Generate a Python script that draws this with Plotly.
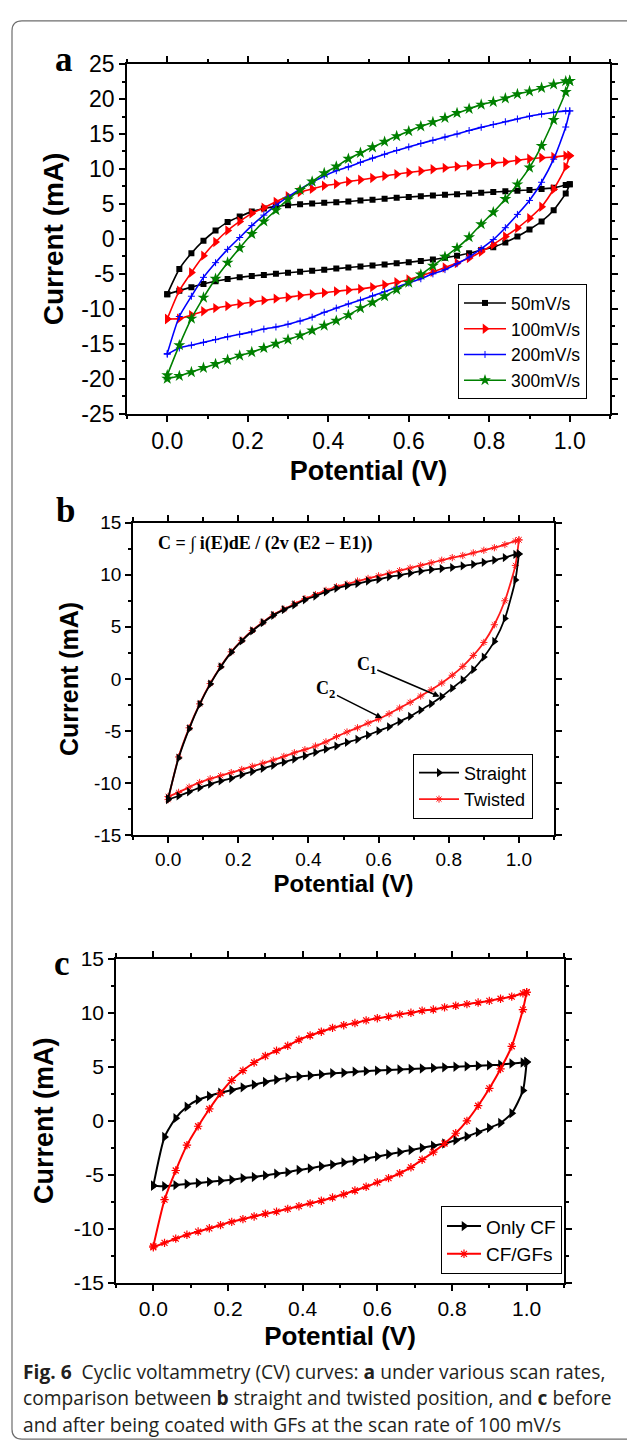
import plotly.graph_objects as go

# ---------------- data ----------------
POTENTIAL = [0.00, 0.03, 0.06, 0.09, 0.12, 0.15, 0.18, 0.21, 0.24, 0.27, 0.30, 0.33,
             0.36, 0.39, 0.42, 0.45, 0.48, 0.51, 0.54, 0.57, 0.60, 0.63, 0.66, 0.69,
             0.72, 0.75, 0.78, 0.81, 0.84, 0.87, 0.90, 0.93, 0.96, 0.99, 1.00]

# panel a : scan rates (forward = anodic sweep, reverse = cathodic sweep)
A_50_FWD = [-7.9, -4.3, -2.05, -0.25, 1.2, 2.4, 3.2, 3.9, 4.35, 4.65, 4.8, 4.95, 5.05, 5.15,
            5.25, 5.35, 5.5, 5.6, 5.75, 5.9, 6.0, 6.1, 6.2, 6.3, 6.4, 6.5, 6.6, 6.7, 6.8, 6.9,
            7.0, 7.15, 7.3, 7.7, 7.8]
A_50_REV = [-7.9, -7.4, -6.9, -6.45, -6.05, -5.75, -5.5, -5.3, -5.15, -5.0, -4.85, -4.7, -4.55,
            -4.4, -4.25, -4.1, -3.95, -3.8, -3.65, -3.5, -3.35, -3.15, -2.95, -2.7, -2.4, -2.05,
            -1.6, -1.2, -0.5, 0.35, 1.35, 2.5, 4.1, 6.5, 7.8]
A_100_FWD = [-11.45, -7.4, -4.8, -2.4, -0.45, 1.2, 2.5, 3.65, 4.45, 5.3, 6.1, 6.7, 7.15, 7.6,
             7.85, 8.2, 8.45, 8.7, 9.0, 9.25, 9.5, 9.7, 9.95, 10.15, 10.35, 10.5, 10.65, 10.85,
             11.0, 11.25, 11.45, 11.6, 11.7, 11.9, 11.9]
A_100_REV = [-11.45, -11.4, -10.9, -10.35, -9.9, -9.6, -9.3, -9.05, -8.8, -8.55, -8.35, -8.1,
             -7.9, -7.7, -7.5, -7.3, -7.15, -6.9, -6.55, -6.2, -5.8, -5.3, -4.7, -4.1, -3.45,
             -2.75, -1.85, -0.8, 0.35, 1.55, 2.95, 4.6, 7.1, 10.3, 11.9]
A_200_FWD = [-16.4, -11.1, -8.2, -5.5, -3.4, -1.5, 0.2, 1.9, 3.4, 4.8, 6.0, 7.1, 8.1, 9.0, 9.75,
             10.3, 10.95, 11.55, 12.1, 12.65, 13.15, 13.65, 14.1, 14.55, 15.0, 15.5, 15.95,
             16.35, 16.75, 17.15, 17.55, 17.85, 18.1, 18.3, 18.3]
A_200_REV = [-16.5, -15.6, -15.2, -14.8, -14.4, -14.0, -13.65, -13.3, -12.9, -12.6, -12.2,
             -11.75, -11.2, -10.5, -9.9, -9.3, -8.75, -8.15, -7.55, -6.9, -6.3, -5.7, -5.0,
             -4.4, -3.55, -2.6, -1.4, -0.1, 1.6, 3.5, 5.5, 8.1, 11.4, 16.0, 18.3]
A_300_FWD = [-19.5, -15.2, -11.4, -8.4, -5.7, -3.4, -1.3, 0.7, 2.5, 4.1, 5.65, 7.0, 8.2, 9.4,
             10.35, 11.45, 12.3, 13.1, 13.9, 14.7, 15.4, 16.1, 16.7, 17.3, 18.0, 18.6, 19.2,
             19.6, 20.1, 20.7, 21.1, 21.6, 22.1, 22.55, 22.6]
A_300_REV = [-20.0, -19.6, -19.05, -18.45, -17.9, -17.3, -16.7, -16.2, -15.6, -15.0, -14.4,
             -13.8, -13.1, -12.4, -11.7, -10.9, -9.9, -9.1, -8.2, -7.25, -6.25, -5.1, -3.85,
             -2.55, -1.3, 0.25, 2.1, 3.8, 5.7, 7.8, 10.2, 13.3, 17.0, 21.0, 22.6]

# panel b : straight vs twisted
B_STRAIGHT_FWD = [-11.5, -7.6, -4.8, -2.45, -0.5, 1.15, 2.55, 3.65, 4.6, 5.4, 6.1, 6.65, 7.1,
                  7.6, 7.95, 8.35, 8.7, 8.95, 9.15, 9.4, 9.55, 9.8, 9.95, 10.15, 10.35, 10.5,
                  10.6, 10.7, 10.85, 11.0, 11.2, 11.4, 11.65, 11.95, 12.0]
B_STRAIGHT_REV = [-11.6, -11.25, -10.85, -10.45, -10.1, -9.8, -9.55, -9.2, -8.9, -8.6, -8.3,
                  -8.0, -7.7, -7.4, -7.05, -6.75, -6.45, -6.1, -5.8, -5.4, -5.0, -4.6, -4.1,
                  -3.6, -3.0, -2.4, -1.7, -0.9, -0.1, 0.9, 2.1, 3.6, 5.8, 9.5, 12.0]
B_TWISTED_FWD = [-11.6, -7.5, -4.7, -2.4, -0.45, 1.2, 2.6, 3.7, 4.65, 5.45, 6.15, 6.7, 7.2,
                 7.7, 8.1, 8.5, 8.85, 9.1, 9.4, 9.65, 9.9, 10.15, 10.4, 10.65, 10.9, 11.15,
                 11.4, 11.65, 11.85, 12.1, 12.35, 12.6, 12.9, 13.25, 13.35]
B_TWISTED_REV = [-11.3, -10.9, -10.4, -9.95, -9.6, -9.3, -9.0, -8.7, -8.4, -8.1, -7.8, -7.45,
                 -7.1, -6.8, -6.45, -6.05, -5.55, -5.1, -4.7, -4.25, -3.85, -3.35, -2.8, -2.25,
                 -1.65, -1.05, -0.4, 0.35, 1.2, 2.25, 3.5, 5.2, 7.5, 10.9, 13.35]

# panel c : before / after GF coating
C_CF_FWD = [-6.0, -1.5, 0.25, 1.3, 1.95, 2.3, 2.6, 2.85, 3.1, 3.35, 3.6, 3.8, 4.0, 4.1, 4.2,
            4.3, 4.4, 4.45, 4.55, 4.6, 4.65, 4.7, 4.75, 4.8, 4.85, 4.9, 4.95, 5.0, 5.05, 5.1,
            5.15, 5.2, 5.3, 5.4, 5.45]
C_CF_REV = [-6.0, -6.05, -5.95, -5.85, -5.75, -5.65, -5.55, -5.45, -5.3, -5.2, -5.05, -4.9,
            -4.75, -4.55, -4.4, -4.2, -4.05, -3.85, -3.7, -3.5, -3.3, -3.1, -2.9, -2.7, -2.5,
            -2.3, -2.1, -1.8, -1.45, -1.05, -0.65, -0.2, 0.7, 2.8, 5.45]
C_GF_FWD = [-11.6, -7.3, -4.6, -2.25, -0.5, 1.1, 2.55, 3.75, 4.65, 5.4, 6.0, 6.5, 6.95, 7.5,
            7.9, 8.25, 8.6, 8.85, 9.05, 9.3, 9.5, 9.65, 9.85, 10.0, 10.2, 10.3, 10.5, 10.65,
            10.8, 10.95, 11.1, 11.3, 11.5, 11.8, 11.9]
C_GF_REV = [-11.7, -11.3, -10.9, -10.55, -10.25, -9.95, -9.65, -9.35, -9.1, -8.85, -8.6, -8.4,
            -8.15, -7.9, -7.65, -7.4, -7.1, -6.8, -6.45, -6.1, -5.7, -5.3, -4.85, -4.3, -3.6,
            -2.9, -2.1, -1.15, 0.0, 1.4, 3.0, 4.8, 6.9, 10.3, 11.9]

X_TICKS = [0.0, 0.2, 0.4, 0.6, 0.8, 1.0]
X_TICK_TEXT = ["0.0", "0.2", "0.4", "0.6", "0.8", "1.0"]
YA_TICKS = [-25, -20, -15, -10, -5, 0, 5, 10, 15, 20, 25]
YA_TICK_TEXT = ["-25", "-20", "-15", "-10", "-5", "0", "5", "10", "15", "20", "25"]
YBC_TICKS = [-15, -10, -5, 0, 5, 10, 15]
YBC_TICK_TEXT = ["-15", "-10", "-5", "0", "5", "10", "15"]

LEGEND_A = ["50mV/s", "100mV/s", "200mV/s", "300mV/s"]
LEGEND_B = ["Straight", "Twisted"]
LEGEND_C = ["Only CF", "CF/GFs"]

# ---------------- layout helpers ----------------
W, H = 627, 1454
def px(x):
    return x / W
def py(y):
    return 1 - y / H

SANS = "Liberation Sans, Arial, sans-serif"
SERIF = "Liberation Serif, Times New Roman, serif"

fig = go.Figure()

def add_loop(fwd, rev, name, color, symbol, msize, xa, ya, legend, lw=1.6,
             mline=None, rank=None):
    marker = dict(symbol=symbol, size=msize, color=color)
    if mline is not None:
        marker["line"] = dict(color=color, width=mline)
    for ys, show in [(fwd, True), (rev, False)]:
        fig.add_trace(go.Scatter(
            x=POTENTIAL, y=ys, mode="lines+markers", name=name,
            legendgroup=name + xa, showlegend=show, legend=legend,
            line=dict(color=color, width=lw, shape="spline", smoothing=0.6),
            marker=marker, xaxis=xa, yaxis=ya,
            legendrank=rank if rank is not None else 1000,
        ))

# panel a
add_loop(A_50_FWD, A_50_REV, LEGEND_A[0], "#000000", "square", 6, "x", "y", "legend", rank=1)
add_loop(A_100_FWD, A_100_REV, LEGEND_A[1], "#ff0000", "triangle-right", 9, "x", "y", "legend", rank=2)
add_loop(A_200_FWD, A_200_REV, LEGEND_A[2], "#0000ff", "cross-thin", 5, "x", "y", "legend",
         mline=1.0, rank=3)
add_loop(A_300_FWD, A_300_REV, LEGEND_A[3], "#008000", "star", 9, "x", "y", "legend", rank=4)

# panel b (twisted drawn first so the straight curve sits on top)
add_loop(B_TWISTED_FWD, B_TWISTED_REV, LEGEND_B[1], "#ff1a1a", "asterisk-open", 6, "x2", "y2",
         "legend2", lw=1.8, mline=1.0, rank=2)
add_loop(B_STRAIGHT_FWD, B_STRAIGHT_REV, LEGEND_B[0], "#000000", "triangle-right", 8, "x2", "y2",
         "legend2", lw=1.8, rank=1)

# panel c
add_loop(C_CF_FWD, C_CF_REV, LEGEND_C[0], "#000000", "triangle-right", 9, "x3", "y3",
         "legend3", lw=2.0, rank=1)
add_loop(C_GF_FWD, C_GF_REV, LEGEND_C[1], "#ff0000", "asterisk-open", 7, "x3", "y3",
         "legend3", lw=2.0, mline=1.2, rank=2)

# ---------------- axes ----------------
def xaxis_cfg(domain, anchor, tsize, title_size, standoff):
    return dict(domain=domain, anchor=anchor, range=[-0.1, 1.1],
                tickmode="array", tickvals=X_TICKS, ticktext=X_TICK_TEXT,
                ticks="outside", ticklen=6, tickwidth=1.5, tickcolor="black",
                minor=dict(tickmode="linear", tick0=0, dtick=0.1, ticks="outside",
                           ticklen=3.5, tickwidth=1.5, tickcolor="black", showgrid=False),
                showline=True, linecolor="black", linewidth=1.6, mirror="allticks",
                showgrid=False, zeroline=False,
                tickfont=dict(family=SANS, size=tsize, color="black"),
                title=dict(text="<b>Potential (V)</b>", standoff=standoff,
                           font=dict(family=SANS, size=title_size, color="black")))

def yaxis_cfg(domain, anchor, rng, tv, tt, tsize, title_size, standoff):
    return dict(domain=domain, anchor=anchor, range=rng,
                tickmode="array", tickvals=tv, ticktext=tt,
                ticks="outside", ticklen=6, tickwidth=1.5, tickcolor="black",
                minor=dict(tickmode="linear", tick0=0, dtick=2.5, ticks="outside",
                           ticklen=3.5, tickwidth=1.5, tickcolor="black", showgrid=False),
                showline=True, linecolor="black", linewidth=1.6, mirror="allticks",
                showgrid=False, zeroline=False,
                tickfont=dict(family=SANS, size=tsize, color="black"),
                title=dict(text="<b>Current (mA)</b>", standoff=standoff,
                           font=dict(family=SANS, size=title_size, color="black")))

layout = dict(
    width=W, height=H, margin=dict(l=0, r=0, t=0, b=0),
    paper_bgcolor="white", plot_bgcolor="white",
    xaxis=xaxis_cfg([px(127), px(610)], "y", 23, 27, 8),
    yaxis=yaxis_cfg([py(408), py(52)], "x", [-25, 25], YA_TICKS, YA_TICK_TEXT, 23, 28, 10),
    xaxis2=xaxis_cfg([px(133), px(554)], "y2", 19, 24, 7),
    yaxis2=yaxis_cfg([py(837), py(519)], "x2", [-15, 15], YBC_TICKS, YBC_TICK_TEXT, 19, 25, 8),
    xaxis3=xaxis_cfg([px(116), px(564)], "y3", 21, 26, 8),
    yaxis3=yaxis_cfg([py(1293), py(963)], "x3", [-15, 15], YBC_TICKS, YBC_TICK_TEXT, 21, 27, 12),
    showlegend=True,
)

def legend_cfg(x, y, size, iw):
    return dict(x=px(x), y=py(y), xanchor="left", yanchor="top", bgcolor="white",
                bordercolor="black", borderwidth=1, font=dict(family=SANS, size=size, color="black"),
                tracegroupgap=0, itemwidth=iw)

layout["legend"] = legend_cfg(458, 276, 17.5, 42)
layout["legend2"] = legend_cfg(413, 754, 18, 40)
layout["legend3"] = legend_cfg(441, 1215, 19, 34)
fig.update_layout(**layout)

# ---------------- annotations ----------------
ann = []
for letter, x, y in [("a", 64, 47), ("b", 65, 507), ("c", 62, 968)]:
    ann.append(dict(text=f"<b>{letter}</b>", x=px(x), y=py(y), xref="paper", yref="paper",
                    showarrow=False, xanchor="center", yanchor="middle",
                    font=dict(family=SERIF, size=35, color="black")))

ann.append(dict(text="<b>C = \u222b i(E)dE / (2v (E2 \u2212 E1))</b>", x=-0.035, y=13.0,
                xref="x2", yref="y2", xanchor="left", yanchor="middle", showarrow=False,
                font=dict(family=SERIF, size=18, color="black")))
# C1 / C2 labels with their pointer arrows (label at the arrow tail)
for label, (tx, ty, hx, hy) in [("<b>C<sub>1</sub></b>", (0.565, 1.3, 0.774, -1.7)),
                                ("<b>C<sub>2</sub></b>", (0.45, -1.05, 0.61, -3.77))]:
    ann.append(dict(text=label, x=hx, y=hy, ax=tx, ay=ty, xref="x2", yref="y2",
                    axref="x2", ayref="y2", showarrow=True, arrowhead=2, arrowsize=0.8,
                    arrowwidth=1.6, arrowcolor="black",
                    font=dict(family=SERIF, size=18, color="black")))

CAPTION = [
    "<b>Fig. 6</b>  Cyclic voltammetry (CV) curves: <b>a</b> under various scan rates,",
    "comparison between <b>b</b> straight and twisted position, and <b>c</b> before",
    "and after being coated with GFs at the scan rate of 100 mV/s",
]
for line, y in zip(CAPTION, [1383, 1410, 1437]):
    ann.append(dict(text=line, x=px(21), y=py(y), xref="paper", yref="paper",
                    showarrow=False, xanchor="left", yanchor="middle",
                    font=dict(family="Open Sans, Lato, sans-serif", size=19.2, color="#231f20")))
fig.update_layout(annotations=ann)

# outer rounded frame
frame = (f"M {px(660)},{py(8)} L {px(22)},{py(8)} Q {px(12)},{py(8)} {px(12)},{py(18)} "
         f"L {px(12)},{py(1442)} Q {px(12)},{py(1452)} {px(22)},{py(1452)} L {px(660)},{py(1452)}")
fig.add_shape(type="path", path=frame, xref="paper", yref="paper",
              line=dict(color="#6d6d6d", width=1.2))

fig.write_html("out.html")
